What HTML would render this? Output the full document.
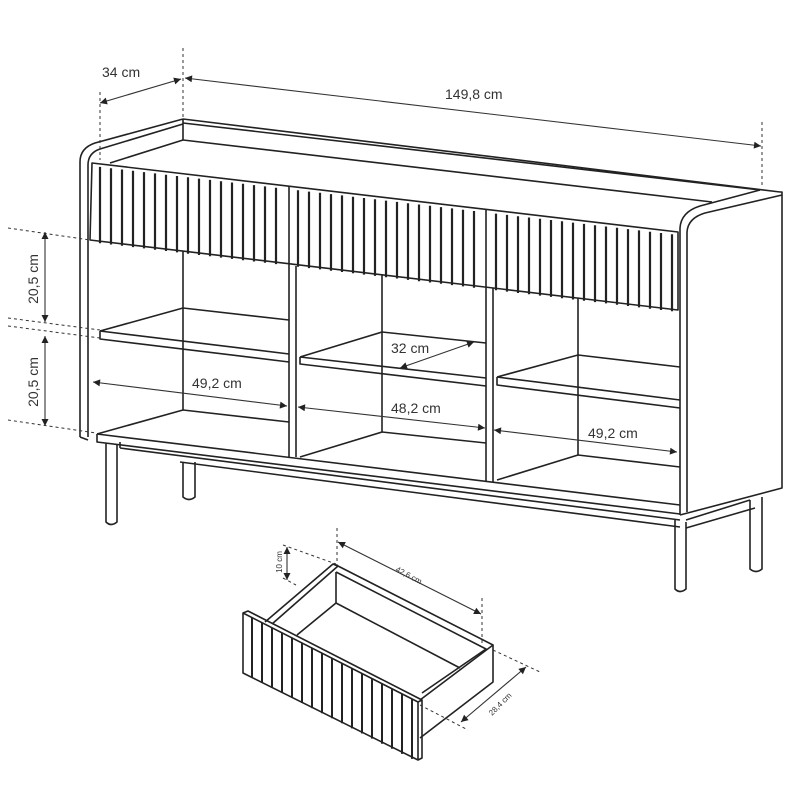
<!DOCTYPE html>
<html><head><meta charset="utf-8"><style>
html,body{margin:0;padding:0;background:#fff}
svg{display:block}
text{font-family:"Liberation Sans",sans-serif;fill:#333}
</style></head><body>
<svg id="s" width="800" height="800" viewBox="0 0 800 800" xmlns="http://www.w3.org/2000/svg">
<defs>
<marker id="a" viewBox="0 0 10 10" refX="10" refY="5" markerWidth="9" markerHeight="7" orient="auto-start-reverse" markerUnits="userSpaceOnUse"><path d="M0,0 L10,5 L0,10 z" fill="#222"/></marker>
</defs>
<g fill="none" stroke="#222" stroke-width="1.6" stroke-linejoin="round">
<path d="M80,437 L80,162 Q80,148 95,143 L183,119"/>
<path d="M88,437 L88,165 Q88,153 100,149 L183,124"/>
<path d="M80,437 L88,440"/>
<path d="M183,119 L780,192"/>
<path d="M183,123 L760,190"/>
<path d="M183,119 L183,140 L712,202"/>
<path d="M183,140 L110,163"/>
<path d="M780,192 L782,192 L782,488 L680,515"/>
<path d="M760,190 L700,206 Q681,212 680,228 L680,515"/>
<path d="M782,195 L705,213 Q688,218 687,232 L687,512"/>
<path d="M92,163 L678,232 L678,310 L90,240 Z"/>
<path d="M289,186 L289,264 M486,209 L486,287"/>
<path d="M289,264 L289,457 M296,266 L296,457"/>
<path d="M486,287 L486,482 M493,288 L493,482"/>
<path d="M183,251 L183,410 M382,275 L382,432 M578,298 L578,455"/>
<path d="M100,331 L183,308 L289,320 M100,331 L289,354 M100,331 L100,339 L289,362"/>
<path d="M300,357 L382,332 L486,343 M300,357 L486,378 M300,357 L300,364 L486,386"/>
<path d="M497,377 L578,355 L680,367 M497,377 L680,400 M497,377 L497,385 L680,408"/>
<path d="M97,434 L183,410 L289,422 M300,457 L382,432 L486,443 M497,480 L578,455 L680,467"/>
<path d="M97,434 L680,505 M97,434 L97,442 L680,514"/>
<path d="M120,448 L680,520 M180,462 L680,527"/>
<path d="M120,442 L120,448"/>
<path d="M106,443 L106,522 Q111,527 117,522 L117,445"/>
<path d="M183,462 L183,497 Q189,502 195,497 L195,462"/>
<path d="M675,520 L675,589 Q680,594 686,589 L686,522"/>
<path d="M750,500 L750,569 Q756,574 762,569 L762,497"/>
<path d="M686,528 L755,508 M686,520 L750,500"/>
<g id="flutes" stroke-width="2.2"></g>
<path d="M243,613 L418,702 L418,760 L243,673 Z"/>
<path d="M418,702 L422,700 L422,758 L418,760"/>
<path d="M243,613 L248,611 L422,700"/>
<path d="M265,622 L333,564 L338,566 L272,624"/>
<path d="M333,564 L338,566 L493,645 L420,700"/>
<path d="M336,572 L486,649 L422,693"/>
<path d="M493,645 L493,682 L420,738"/>
<path d="M336,572 L336,603 L297,635 M336,603 L460,668"/>
<g id="flutes2" stroke-width="2"></g>
</g>
<g fill="none" stroke="#333" stroke-width="1" stroke-dasharray="3,3">
<path d="M100,92 L100,160 M183,48 L183,118 M762,122 L762,188"/>
<path d="M8,228 L90,240 M8,318 L100,330 M8,326 L100,338 M8,420 L96,433"/>
<path d="M283,545 L336,564 M283,578 L296,585 M337,528 L337,565 M482,598 L482,645 M493,650 L540,672 M420,705 L468,730"/>
</g>
<g fill="none" stroke="#333" stroke-width="1.1">
<path d="M100,103 L181,79" marker-start="url(#a)" marker-end="url(#a)"/>
<path d="M185,78 L761,146" marker-start="url(#a)" marker-end="url(#a)"/>
<path d="M45,232 L45,322" marker-start="url(#a)" marker-end="url(#a)"/>
<path d="M45,336 L45,426" marker-start="url(#a)" marker-end="url(#a)"/>
<path d="M93,382 L287,406" marker-start="url(#a)" marker-end="url(#a)"/>
<path d="M298,407 L485,428" marker-start="url(#a)" marker-end="url(#a)"/>
<path d="M494,430 L677,452" marker-start="url(#a)" marker-end="url(#a)"/>
<path d="M400,368 L474,342" marker-start="url(#a)" marker-end="url(#a)"/>
<path d="M287,547 L287,580" marker-start="url(#a)" marker-end="url(#a)"/>
<path d="M338,542 L481,614" marker-start="url(#a)" marker-end="url(#a)"/>
<path d="M526,667 L461,722" marker-start="url(#a)" marker-end="url(#a)"/>
</g>
<text x="102" y="77" font-size="14">34 cm</text>
<text x="445" y="99" font-size="14">149,8 cm</text>
<text transform="translate(38,279) rotate(-90)" font-size="14" text-anchor="middle">20,5 cm</text>
<text transform="translate(38,382) rotate(-90)" font-size="14" text-anchor="middle">20,5 cm</text>
<text x="192" y="388" font-size="14">49,2 cm</text>
<text x="391" y="413" font-size="14">48,2 cm</text>
<text x="588" y="438" font-size="14">49,2 cm</text>
<text x="391" y="353" font-size="14">32 cm</text>
<text transform="translate(282,562) rotate(-90)" font-size="8" text-anchor="middle">10 cm</text>
<text transform="translate(395,571) rotate(28)" font-size="8">42,6 cm</text>
<text transform="translate(492,716) rotate(-45)" font-size="8">28,4 cm</text>
</svg>
<script>
(function(){
var ns="http://www.w3.org/2000/svg",g=document.getElementById("flutes"),d="";
var m=(232-163)/(678-92),mb=(310-240)/(678-90);
for(var x=100;x<676;x+=11){
 if(Math.abs(x-289)<4||Math.abs(x-486)<4)continue;
 var t=163+m*(x-92)+3,b=240+mb*(x-90);
 d+="M"+x.toFixed(1)+","+t.toFixed(1)+" L"+x.toFixed(1)+","+(b+2).toFixed(1)+" ";
}
var p=document.createElementNS(ns,"path");p.setAttribute("d",d);g.appendChild(p);
var g2=document.getElementById("flutes2"),d2="";
var s=(702-613)/(418-243);
for(var x=252;x<414;x+=10){
 var t=613+s*(x-243),b=673+s*(x-243);
 d2+="M"+x.toFixed(1)+","+t.toFixed(1)+" L"+x.toFixed(1)+","+b.toFixed(1)+" ";
}
var p2=document.createElementNS(ns,"path");p2.setAttribute("d",d2);g2.appendChild(p2);
})();
</script>
</body></html>
